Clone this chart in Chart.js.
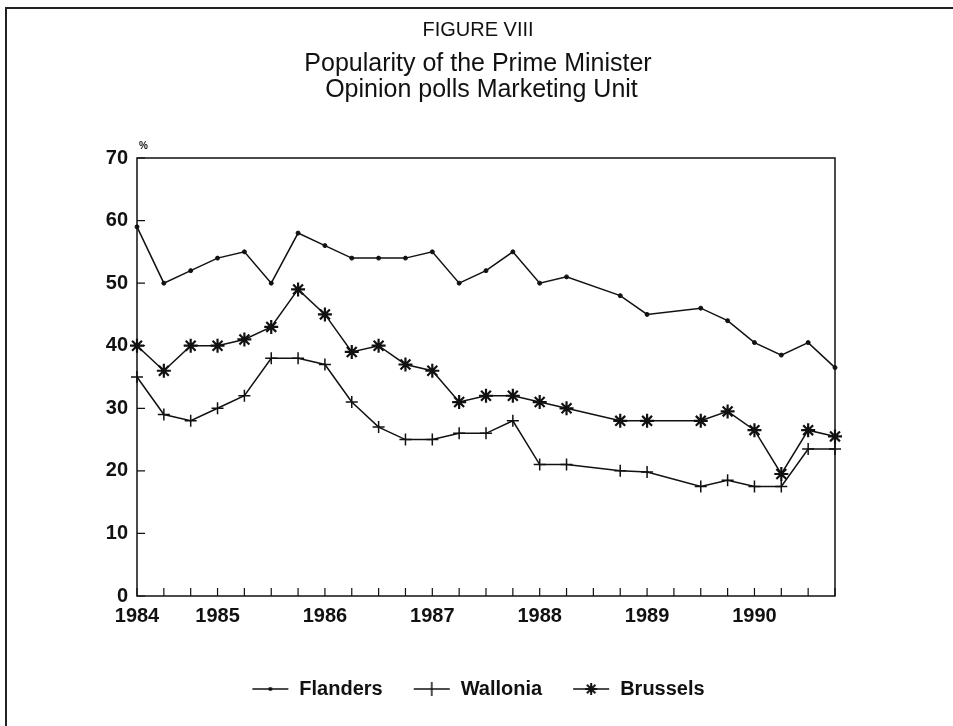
<!DOCTYPE html>
<html lang="en">
<head>
<meta charset="UTF-8" />
<title>Popularity of the Prime Minister</title>
<script src="https://cdn.jsdelivr.net/npm/chart.js"></script>
<style>
  html, body { margin: 0; padding: 0; background: #fff; }
  #wrap { position: relative; width: 953px; height: 726px; overflow: hidden; }
  #frame { position: absolute; left: 5px; top: 7px; right: -4px; bottom: -4px;
           border-left: 2px solid #222; border-top: 2px solid #222; pointer-events: none; }
  canvas { position: absolute; left: 0; top: 0; }
</style>
</head>
<body>
<div id="wrap">
  <canvas id="chart" width="953" height="726"></canvas>
  <div id="frame"></div>
</div>
<script>
  // quarterly polls, 1984 - 1990
  const yearTicks = ['1984', '', '', '1985', '', '', '', '1986', '', '', '', '1987', '', '', '',
                     '1988', '', '', '', '1989', '', '', '', '1990', '', '', ''];
  const flanders = [59, 50, 52, 54, 55, 50, 58, 56, 54, 54, 54, 55, 50, 52, 55, 50, 51, null,
                    48, 45, null, 46, 44, 40.5, 38.5, 40.5, 36.5];
  const wallonia = [35, 29, 28, 30, 32, 38, 38, 37, 31, 27, 25, 25, 26, 26, 28, 21, 21, null,
                    20, 19.8, null, 17.5, 18.5, 17.5, 17.5, 23.5, 23.5];
  const brussels = [40, 36, 40, 40, 41, 43, 49, 45, 39, 40, 37, 36, 31, 32, 32, 31, 30, null,
                    28, 28, null, 28, 29.5, 26.5, 19.5, 26.5, 25.5];

  const INK = '#111';
  Chart.defaults.font.family = '"Liberation Sans", Arial, sans-serif';
  Chart.defaults.color = INK;

  // little line+marker pictures for the legend
  function legendIcon(kind) {
    const c = document.createElement('canvas');
    c.width = 38; c.height = 18;
    const g = c.getContext('2d');
    g.strokeStyle = INK; g.fillStyle = INK; g.lineWidth = 1.5;
    g.beginPath(); g.moveTo(1, 9); g.lineTo(37, 9); g.stroke();
    g.beginPath();
    if (kind === 'dot') {
      g.arc(19, 9, 2, 0, Math.PI * 2); g.fill();
    } else if (kind === 'plus') {
      g.moveTo(19, 2); g.lineTo(19, 16); g.stroke();
    } else {
      g.lineWidth = 2;
      for (let a = 0; a < 4; a++) {
        const r = a * Math.PI / 4;
        g.moveTo(19 - 6 * Math.sin(r), 9 - 6 * Math.cos(r));
        g.lineTo(19 + 6 * Math.sin(r), 9 + 6 * Math.cos(r));
      }
      g.stroke();
    }
    return c;
  }
  const icons = [legendIcon('dot'), legendIcon('plus'), legendIcon('star')];

  // box round the plot, inward ticks and the little % sign
  const frameTicks = {
    id: 'frameTicks',
    afterDraw(chart) {
      const { ctx, chartArea: a, scales: { x, y } } = chart;
      ctx.save();
      ctx.strokeStyle = INK;
      ctx.lineWidth = 1.5;
      ctx.strokeRect(a.left, a.top, a.right - a.left, a.bottom - a.top);
      ctx.beginPath();
      x.ticks.forEach((t, i) => {
        const px = x.getPixelForTick(i);
        ctx.moveTo(px, a.bottom); ctx.lineTo(px, a.bottom - 8);
      });
      y.ticks.forEach((t, i) => {
        const py = y.getPixelForTick(i);
        ctx.moveTo(a.left, py); ctx.lineTo(a.left + 8, py);
      });
      ctx.lineWidth = 1.2;
      ctx.stroke();
      ctx.fillStyle = INK;
      ctx.font = 'bold 10px "Liberation Sans", Arial, sans-serif';
      ctx.textAlign = 'left';
      ctx.fillText('%', a.left + 2, a.top - 12);
      ctx.restore();
    }
  };

  const lineStyle = { borderColor: INK, borderWidth: 1.5, tension: 0, spanGaps: true, clip: false,
                      pointBorderColor: INK, pointBackgroundColor: INK };

  new Chart(document.getElementById('chart'), {
    type: 'line',
    data: {
      labels: yearTicks,
      datasets: [
        { ...lineStyle, label: 'Flanders', data: flanders, pointStyle: 'circle', pointRadius: 2, pointBorderWidth: 1 },
        { ...lineStyle, label: 'Wallonia', data: wallonia, pointStyle: 'cross', pointRadius: 6, pointBorderWidth: 1.5 },
        { ...lineStyle, label: 'Brussels', data: brussels, pointStyle: 'star', pointRadius: 7, pointBorderWidth: 2.2 }
      ]
    },
    options: {
      responsive: false,
      animation: false,
      events: [],
      layout: { padding: { left: 106, right: 103, top: 0, bottom: 17 } },
      scales: {
        x: {
          offset: false,
          grid: { display: false, drawTicks: false },
          border: { display: false },
          ticks: { autoSkip: false, maxRotation: 0, padding: 8, color: INK,
                   font: { size: 20, weight: 'bold' } },
          afterFit(s) { s.height = 53; }
        },
        y: {
          min: 0, max: 70,
          grid: { display: false, drawTicks: false },
          border: { display: false },
          ticks: { stepSize: 10, padding: 9, color: INK, font: { size: 20, weight: 'bold' } },
          afterFit(s) { s.width = 31; }
        },
        // empty strip on the right, keeps the plot where the original has it
        y2: {
          position: 'right',
          min: 0, max: 70,
          grid: { display: false, drawTicks: false },
          border: { display: false },
          ticks: { display: false },
          afterFit(s) { s.width = 15; }
        }
      },
      plugins: {
        title: {
          display: true, text: 'FIGURE VIII', color: INK,
          font: { size: 20, weight: 'normal', lineHeight: 1.2 },
          padding: { top: 18, bottom: 0 }
        },
        subtitle: {
          display: true, color: INK,
          text: ['Popularity of the Prime Minister', ' Opinion polls Marketing Unit'],
          font: { size: 25, weight: 'normal', lineHeight: 1.04 },
          padding: { top: 9, bottom: 55 }
        },
        legend: {
          position: 'bottom',
          labels: {
            usePointStyle: true,
            pointStyleWidth: 38,
            padding: 30,
            color: INK,
            font: { size: 20, weight: 'bold' },
            generateLabels(chart) {
              return chart.data.datasets.map((ds, i) => ({
                text: ds.label, datasetIndex: i, hidden: false,
                pointStyle: icons[i], fontColor: INK,
                strokeStyle: INK, fillStyle: INK, lineWidth: 0
              }));
            }
          }
        },
        tooltip: { enabled: false }
      }
    },
    plugins: [frameTicks]
  });
</script>
</body>
</html>
